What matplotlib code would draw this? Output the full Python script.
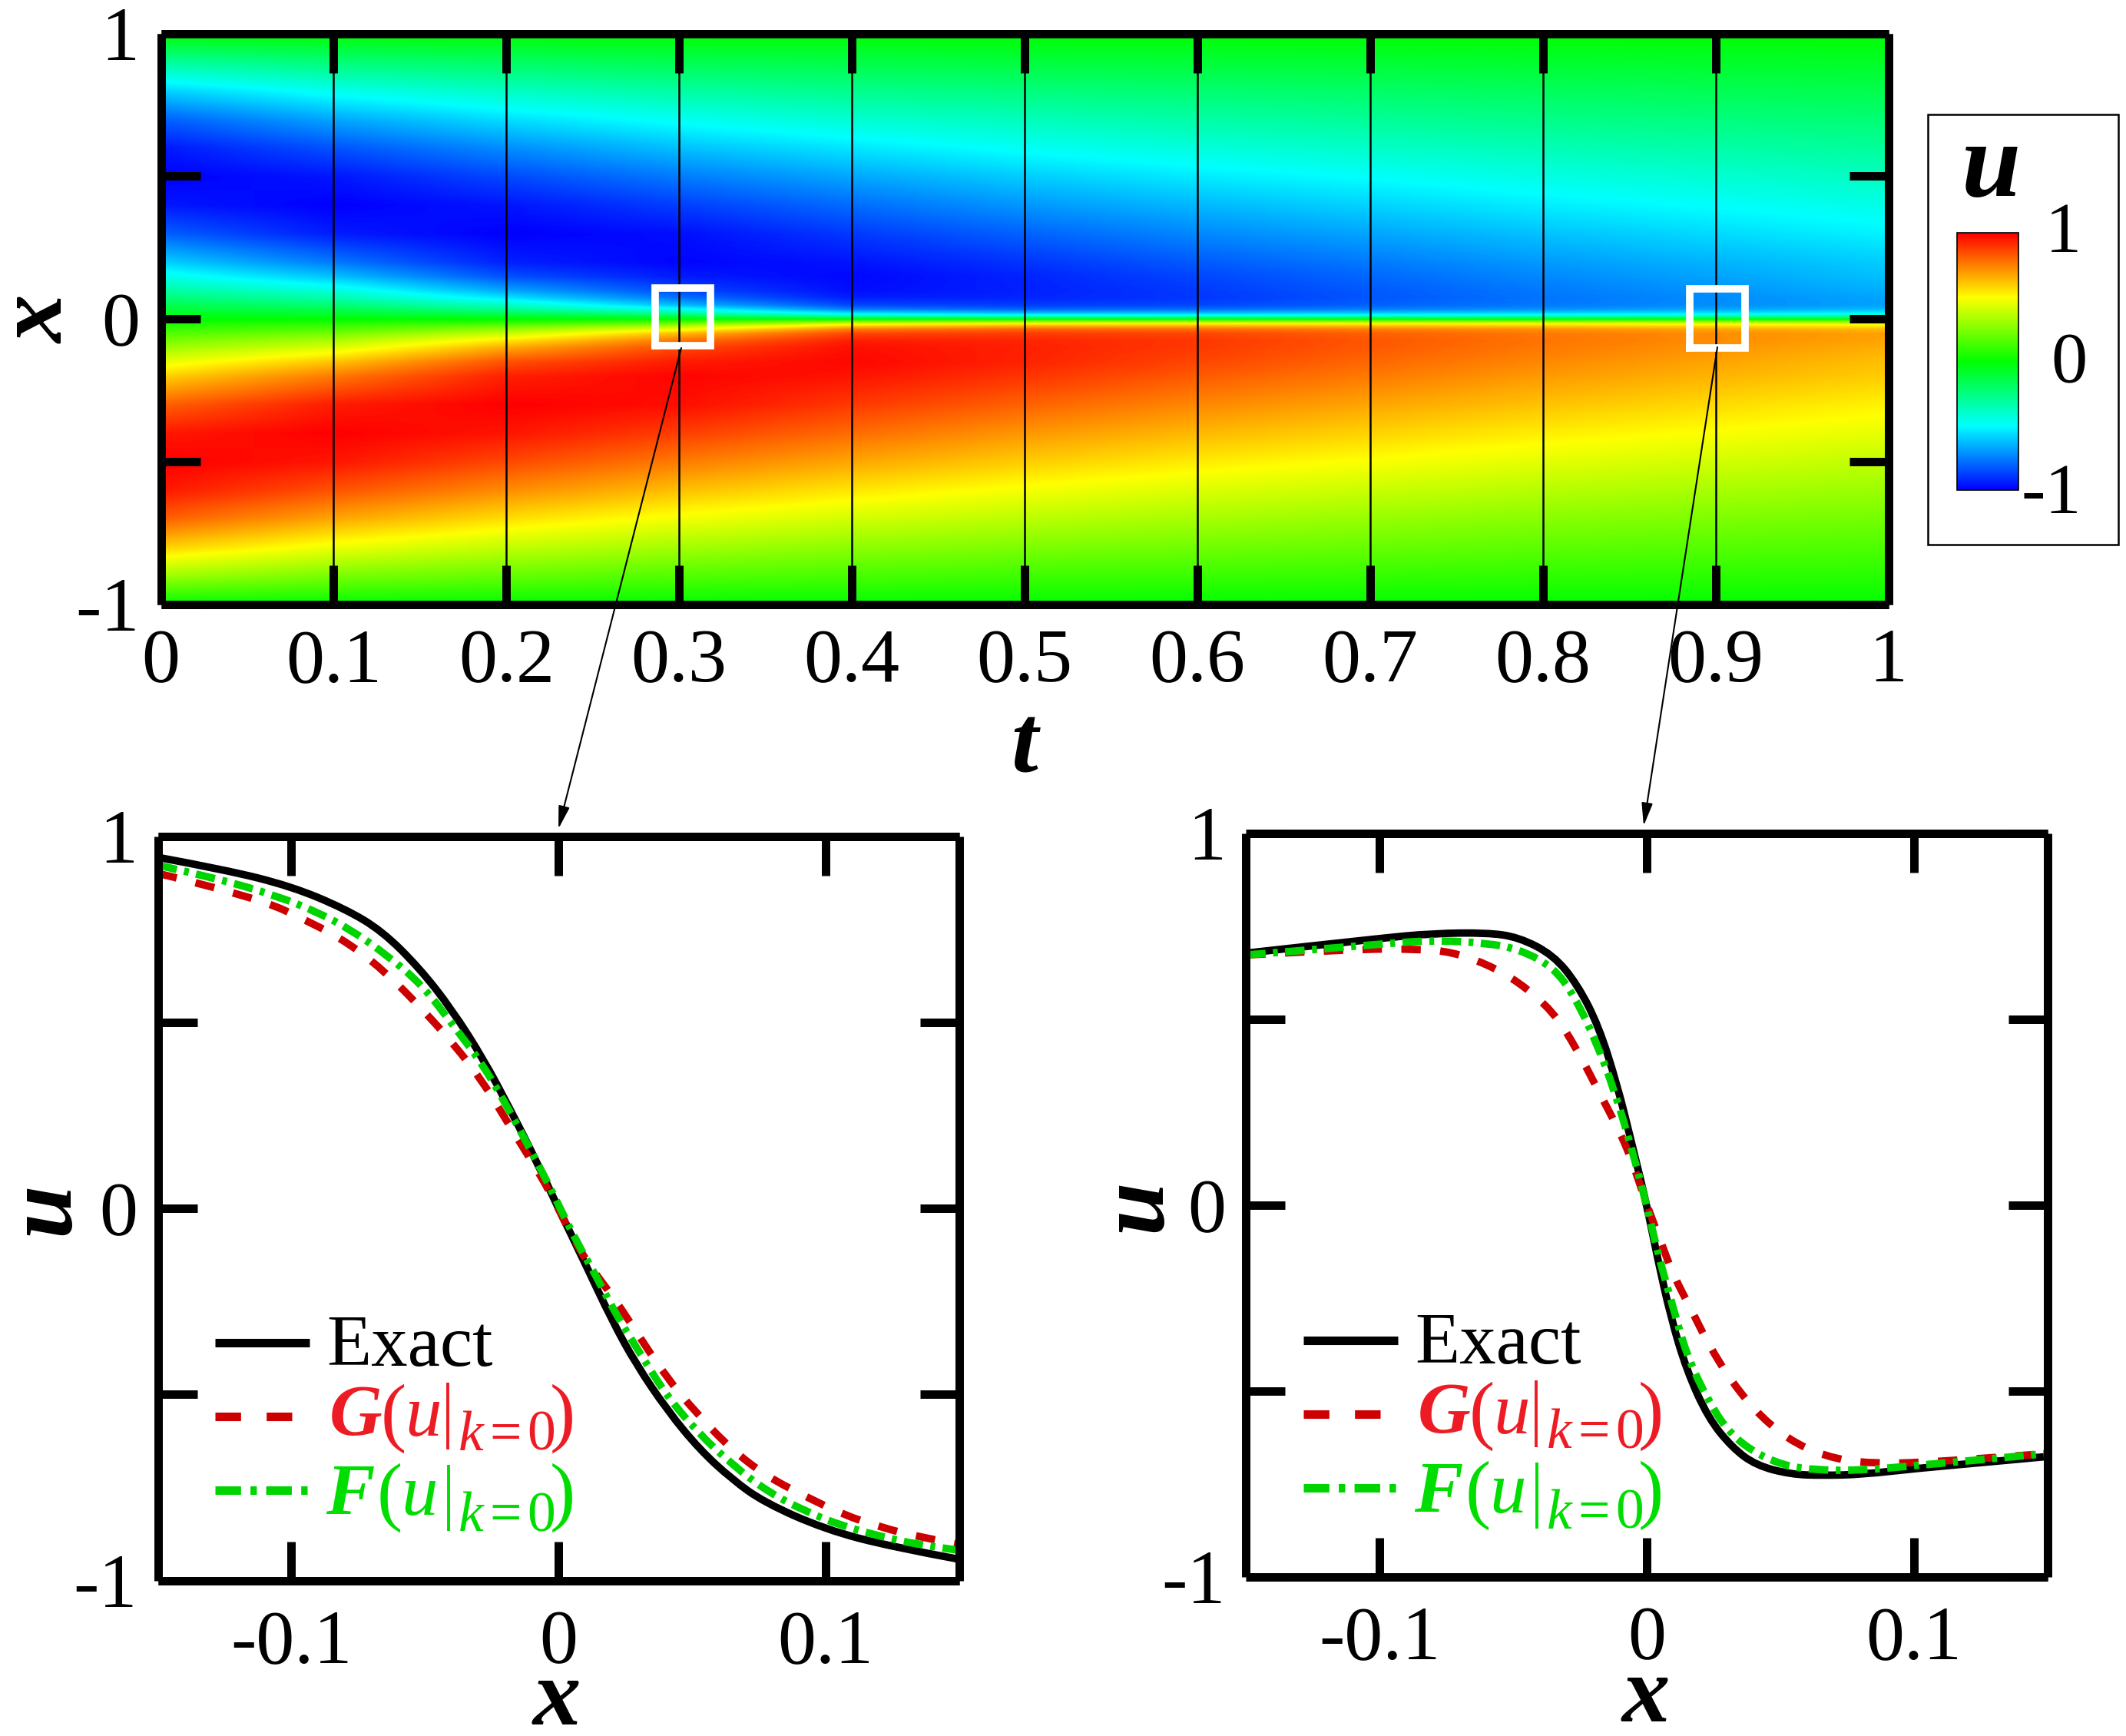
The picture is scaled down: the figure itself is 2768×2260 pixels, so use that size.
import numpy as np
import matplotlib
matplotlib.use('Agg')
import matplotlib.pyplot as plt
from matplotlib.colors import LinearSegmentedColormap
from matplotlib.path import Path
from matplotlib.patches import PathPatch

plt.rcParams['font.family'] = ['Liberation Serif', 'DejaVu Serif']

# field u(t, x); values are for x < 0, the x > 0 half is mirrored
dist = [0, .005, .01, .02, .035, .05, .075, .1, .15, .2, .3, .4, .5, .6, .7, .8, .9, 1]
times = [0, .1, .2, .3, .4, .5, .6, .8, 1]
u_t00 = [0, .016, .031, .063, .11, .156, .233, .309, .454, .588, .809, .951, 1, .951, .809, .588, .309, 0]
u_t01 = [0, .023, .046, .092, .16, .227, .335, .433, .616, .76, .944, 1, .955, .835, .67, .465, .235, 0]
u_t02 = [0, .04, .08, .163, .285, .39, .547, .667, .84, .936, 1, .957, .855, .72, .56, .38, .195, 0]
u_t03 = [0, .075, .145, .285, .47, .63, .77, .855, .945, .99, .97, .875, .755, .62, .475, .32, .16, 0]
u_t04 = [0, .15, .3, .53, .75, .86, .94, .97, .985, .96, .885, .785, .67, .545, .41, .275, .14, 0]
u_t05 = [0, .18, .35, .6, .8, .88, .925, .935, .93, .895, .805, .7, .595, .48, .365, .245, .12, 0]
u_t06 = [0, .19, .36, .6, .78, .86, .89, .885, .86, .82, .73, .635, .535, .43, .325, .22, .11, 0]
u_t08 = [0, .18, .35, .56, .71, .76, .77, .76, .73, .695, .615, .53, .445, .355, .265, .18, .09, 0]
u_t10 = [0, .16, .31, .5, .63, .68, .675, .655, .62, .595, .52, .45, .375, .3, .225, .15, .075, 0]

# t = 0.3 panel
x3_exact = [-.15, -.125, -.1, -.08, -.066, -.052, -.04, -.028, -.018, -.009, 0, .01, .02, .029, .041, .053, .065, .077, .1, .125, .15]
u3_exact = [.943, .91, .865, .805, .745, .645, .535, .40, .265, .138, 0, -.148, -.30, -.418, -.545, -.649, -.728, -.79, -.863, -.91, -.943]
x3_g = [-.15, -.114, -.092, -.078, -.064, -.051, -.039, -.028, -.02, -.011, -.003, .004, .011, .021, .029, .04, .052, .065, .078, .093, .107, .12, .134, .15]
u3_g = [.90, .838, .766, .71, .63, .535, .44, .337, .242, .138, .043, -.06, -.148, -.243, -.33, -.45, -.553, -.649, -.72, -.776, -.824, -.855, -.882, -.903]
x3_f = [-.15, -.127, -.105, -.091, -.078, -.064, -.051, -.039, -.029, -.021, -.012, -.005, .001, .007, .014, .022, .031, .04, .052, .065, .078, .093, .107, .121, .134, .15]
u3_f = [.922, .885, .838, .798, .75, .679, .60, .488, .393, .297, .178, .083, -.005, -.092, -.18, -.291, -.394, -.498, -.601, -.688, -.76, -.816, -.855, -.882, -.903, -.919]

# t = 0.9 panel
x9_exact = [-.15, -.1, -.08, -.06, -.048, -.035, -.026, -.018, -.011, -.006, 0, .004, .009, .015, .023, .032, .041, .054, .066, .081, .101, .126, .15]
u9_exact = [.677, .717, .73, .732, .72, .672, .593, .481, .321, .177, 0, -.142, -.302, -.446, -.573, -.653, -.701, -.725, -.728, -.725, -.709, -.693, -.677]
x9_g = [-.15, -.11, -.085, -.073, -.06, -.048, -.035, -.026, -.018, -.011, -.006, 0, .005, .01, .017, .023, .032, .043, .056, .071, .086, .103, .126, .15]
u9_g = [.672, .688, .688, .68, .648, .60, .52, .417, .305, .209, .129, 0, -.094, -.19, -.286, -.374, -.478, -.573, -.645, -.685, -.696, -.693, -.682, -.669]
x9_f = [-.15, -.102, -.08, -.06, -.048, -.035, -.027, -.019, -.012, -.006, 0, .004, .009, .015, .023, .03, .039, .051, .064, .081, .101, .126, .15]
u9_f = [.672, .70, .712, .704, .688, .64, .56, .44, .305, .161, 0, -.126, -.254, -.406, -.526, -.605, -.661, -.701, -.714, -.714, -.701, -.685, -.669]

t_ticks = [0, .1, .2, .3, .4, .5, .6, .7, .8, .9, 1]
t_labels = ['0', '0.1', '0.2', '0.3', '0.4', '0.5', '0.6', '0.7', '0.8', '0.9', '1']
x_lines = [.1, .2, .3, .4, .5, .6, .7, .8, .9]

W, H = 2768, 2260
RED_LINE, RED_TEXT = '#CC0000', '#ED1C24'
GREEN_LINE, GREEN_TEXT = '#00D400', '#00DD00'
FRAME = 7.9      # 11 px at dpi 100
TICK_LEN = 37


def px_axes(left, top, right, bottom):
    return fig.add_axes([left / W, 1 - bottom / H, (right - left) / W, (bottom - top) / H])


def frame_style(ax, pad_x, pad_y):
    for sp in ax.spines.values():
        sp.set_linewidth(FRAME)
        sp.set_capstyle('butt')
    ax.tick_params(which='both', direction='in', top=True, right=True, length=TICK_LEN, width=FRAME, labelsize=72)
    ax.tick_params(axis='x', pad=pad_x)
    ax.tick_params(axis='y', pad=pad_y)


def smooth_curve(ax, xs, ys, **kw):
    # quadratic path through the read points so the line has no corners
    pts = np.column_stack([xs, ys])
    verts = [pts[0]]
    codes = [Path.MOVETO]
    for i in range(1, len(pts) - 1):
        end = pts[-1] if i == len(pts) - 2 else (pts[i] + pts[i + 1]) / 2
        verts += [pts[i], end]
        codes += [Path.CURVE3, Path.CURVE3]
    ax.add_patch(PathPatch(Path(verts, codes), fill=False, **kw))


fig = plt.figure(figsize=(W / 100, H / 100), dpi=100)
cmap = LinearSegmentedColormap.from_list('rainbow5', ['#0000ff', '#00ffff', '#00ff00', '#ffff00', '#ff0000'])

# build the picture from the table
half = np.array([u_t00, u_t01, u_t02, u_t03, u_t04, u_t05, u_t06, u_t08, u_t10])
d = np.array(dist)
x_knots = np.concatenate([-d[::-1], d[1:]])
u_knots = np.concatenate([half[:, ::-1], -half[:, 1:]], axis=1)
x_fine = np.linspace(-1, 1, 1600)
t_fine = np.linspace(0, 1, 1000)
cols = np.array([np.interp(x_fine, x_knots, row) for row in u_knots])
field = np.array([np.interp(t_fine, times, cols[:, i]) for i in range(len(x_fine))])

ax = px_axes(209.5, 43.5, 2458.5, 786.5)
im = ax.imshow(field, extent=[0, 1, -1, 1], origin='lower', aspect='auto', cmap=cmap, vmin=-1, vmax=1)
for t in x_lines:
    ax.axvline(t, color='k', lw=1.8)
ax.set_xlim(0, 1)
ax.set_ylim(-1, 1)
ax.set_xticks(t_ticks, t_labels)
ax.set_yticks([-1, -.5, 0, .5, 1], ['-1', '', '0', '', '1'])
frame_style(ax, 23, 20)
ax.plot([.286, .318, .318, .286, .286], [-.094, -.094, .107, .107, -.094], color='white', lw=7, solid_joinstyle='miter')
ax.plot([.885, .917, .917, .885, .885], [-.102, -.102, .104, .104, -.102], color='white', lw=7, solid_joinstyle='miter')

# colour bar
cax = px_axes(2548, 303, 2628, 638)
cb = fig.colorbar(im, cax=cax)
cb.set_ticks([])
cb.outline.set_linewidth(1.2)

for ax, curves in [
    (px_axes(205.5, 1088.5, 1248.5, 2057.5), (x3_exact, u3_exact, x3_g, u3_g, x3_f, u3_f)),
    (px_axes(1622.5, 1084.5, 2665.5, 2052.5), (x9_exact, u9_exact, x9_g, u9_g, x9_f, u9_f)),
]:
    smooth_curve(ax, curves[0], curves[1], color='k', lw=7)
    smooth_curve(ax, curves[2], curves[3], color=RED_LINE, lw=7, ls=(0, (2.6, 2.6)), capstyle='butt')
    smooth_curve(ax, curves[4], curves[5], color=GREEN_LINE, lw=7, ls=(0, (2.6, 1, .65, 1)), capstyle='butt')
    ax.set_xlim(-.15, .15)
    ax.set_ylim(-1, 1)
    ax.set_xticks([-.1, 0, .1], ['-0.1', '0', '0.1'])
    ax.set_yticks([-1, -.5, 0, .5, 1], ['-1', '', '0', '', '1'])
    frame_style(ax, 27, 19)

# overlay in pixel coordinates for labels, legends and arrows
ov = fig.add_axes([0, 0, 1, 1], zorder=10)
ov.set_xlim(0, W)
ov.set_ylim(H, 0)
ov.axis('off')

ov.add_patch(plt.Rectangle((2510, 149), 248, 560, fc='none', ec='k', lw=1.8))
ov.text(2593, 255, 'u', fontsize=100, style='italic', weight='bold', ha='center', va='baseline')
ov.text(2710, 306, '1', fontsize=68, ha='right', va='center')
ov.text(2694, 475, '0', fontsize=68, ha='center', va='center')
ov.text(2710, 645, '-1', fontsize=68, ha='right', va='center')


def bold_label(x, y, s, rotation=0, va='center'):
    ov.text(x, y, s, fontsize=90, style='italic', weight='bold', ha='center', va=va, rotation=rotation)


bold_label(52, 416, 'x', 90)
bold_label(1334, 1004, 't', va='baseline')
bold_label(59, 1573, 'u', 90)
bold_label(725, 2245, 'x', va='baseline')
bold_label(1481, 1569, 'u', 90)
bold_label(2143, 2241, 'x', va='baseline')

for start, end in [((887, 453), (727, 1079)), ((2236, 452), (2140, 1075))]:
    ov.annotate('', xy=end, xytext=start, xycoords='data', textcoords='data',
                arrowprops=dict(arrowstyle='-|>,head_length=0.9,head_width=0.22', color='k', lw=1.5,
                                mutation_scale=20, shrinkA=0, shrinkB=0))


def legend_row(dx, dy, base, head, head_x, color, par_x, bar_x, u_x, top, bot, sub_base):
    ov.text(head_x + dx, base + dy, head, fontsize=68.5, style='italic', weight='bold', color=color, va='baseline')
    ov.text(par_x[0] + dx, base + 2 + dy, '(', fontsize=72, color=color, va='baseline')
    ov.text(u_x + dx, base + dy, 'u', fontsize=68.5, style='italic', color=color, va='baseline')
    ov.plot([bar_x + dx, bar_x + dx], [top + dy, bot + dy], color=color, lw=2.8, solid_capstyle='butt')
    ov.text(597 + dx, sub_base + dy, 'k', fontsize=53, style='italic', color=color, va='baseline')
    ov.text(637 + dx, sub_base + dy, '=', fontsize=53, color=color, va='baseline')
    ov.text(686 + dx, sub_base + dy, '0', fontsize=53, color=color, va='baseline')
    ov.text(par_x[1] + dx, base + 2 + dy, ')', fontsize=72, color=color, va='baseline')


for dx, dy in [(0, 0), (1417, -3)]:
    ov.plot([280 + dx, 403 + dx], [1748 + dy, 1748 + dy], color='k', lw=8, solid_capstyle='butt')
    ov.plot([280 + dx, 403 + dx], [1844 + dy, 1844 + dy], color=RED_LINE, lw=8, ls=(0, (3, 3)), dash_capstyle='butt')
    ov.plot([280 + dx, 403 + dx], [1940 + dy, 1940 + dy], color=GREEN_LINE, lw=8, ls=(0, (3, 1.1, .75, 1.1)), dash_capstyle='butt')
    ov.text(425 + dx, 1778 + dy, 'Exact', fontsize=68.5, va='baseline')
    legend_row(dx, dy, 1869, 'G', 429, RED_TEXT, (496, 716), 583, 527, 1800, 1887, 1888)
    legend_row(dx, dy, 1972, 'F', 424, GREEN_TEXT, (491, 716), 584, 522, 1907, 1993, 1993)

ov.set_xlim(0, W)
ov.set_ylim(H, 0)

fig.savefig('out.png', dpi=100)
